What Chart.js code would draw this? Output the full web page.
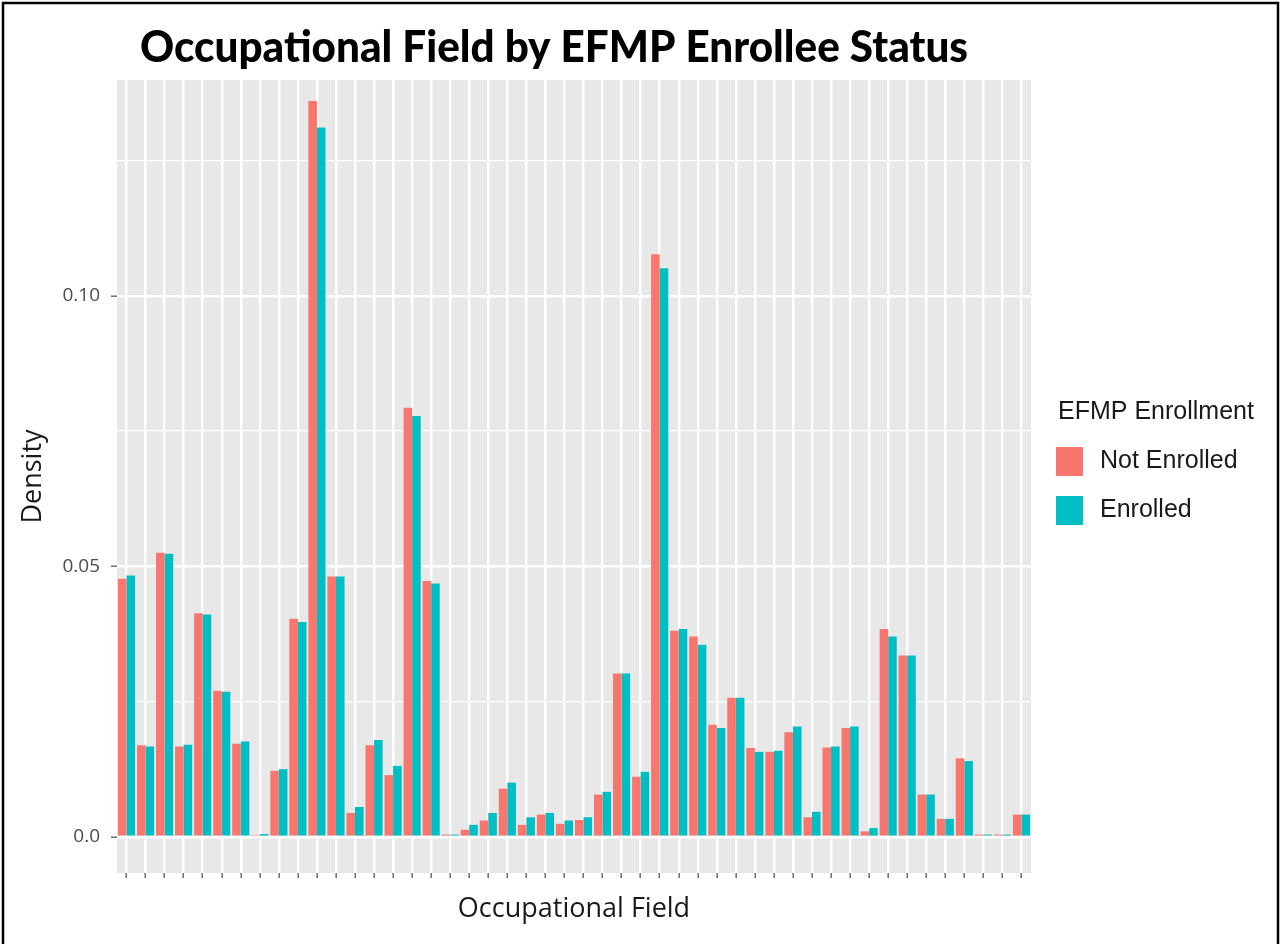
<!DOCTYPE html>
<html>
<head>
<meta charset="utf-8">
<title>Occupational Field by EFMP Enrollee Status</title>
<script src="https://cdn.jsdelivr.net/npm/chart.js@4.4.0/dist/chart.umd.min.js"></script>
<style>
    html, body { margin: 0; padding: 0; background: #fff; }
    #chart { display: block; }
</style>
</head>
<body>
<canvas id="chart" width="1281" height="944"></canvas>
<script>
const chartTitle = 'Occupational Field by EFMP Enrollee Status';
const xTitle = 'Occupational Field';
const yTitle = 'Density';
const legendTitle = 'EFMP Enrollment';

// occupational fields (not labelled on the original axis)
const fields = [
    'F01', 'F02', 'F03', 'F04', 'F05', 'F06', 'F07', 'F08', 'F09', 'F10', 'F11', 'F12',
    'F13', 'F14', 'F15', 'F16', 'F17', 'F18', 'F19', 'F20', 'F21', 'F22', 'F23', 'F24',
    'F25', 'F26', 'F27', 'F28', 'F29', 'F30', 'F31', 'F32', 'F33', 'F34', 'F35', 'F36',
    'F37', 'F38', 'F39', 'F40', 'F41', 'F42', 'F43', 'F44', 'F45', 'F46', 'F47', 'F48'
];

const notEnrolled = [
    0.0477, 0.0169, 0.0525, 0.0167, 0.0413, 0.0270, 0.0172, 0.0003, 0.0122, 0.0403, 0.1360, 0.0481,
    0.0044, 0.0169, 0.0114, 0.0793, 0.0473, 0.0004, 0.0013, 0.0030, 0.0089, 0.0022, 0.0041, 0.0024,
    0.0031, 0.0078, 0.0302, 0.0111, 0.1077, 0.0381, 0.0370, 0.0207, 0.0257, 0.0164, 0.0157, 0.0193,
    0.0036, 0.0165, 0.0201, 0.0010, 0.0384, 0.0335, 0.0078, 0.0033, 0.0145, 0.0004, 0.0004, 0.0041
];

const enrolled = [
    0.0483, 0.0167, 0.0523, 0.0170, 0.0411, 0.0268, 0.0176, 0.0005, 0.0125, 0.0397, 0.1311, 0.0481,
    0.0055, 0.0179, 0.0131, 0.0778, 0.0468, 0.0004, 0.0022, 0.0044, 0.0100, 0.0036, 0.0044, 0.0030,
    0.0036, 0.0083, 0.0302, 0.0120, 0.1051, 0.0384, 0.0355, 0.0201, 0.0257, 0.0157, 0.0159, 0.0204,
    0.0046, 0.0167, 0.0204, 0.0016, 0.0370, 0.0335, 0.0078, 0.0033, 0.0140, 0.0004, 0.0004, 0.0041
];

// major ticks are labelled, minor ones only get a thin grid line
const yTickValues = [0, 0.025, 0.05, 0.075, 0.10, 0.125];
const yTickLabels = ['0.0', '', '0.05', '', '0.10', ''];
const yMin = -0.0067;
const yMax = 0.1399;

// grey ggplot style panel behind the grid
const panelBackground = {
    id: 'panelBackground',
    beforeDraw(chart) {
        const ctx = chart.ctx;
        const a = chart.chartArea;
        ctx.save();
        ctx.fillStyle = '#E8E8E8';
        ctx.fillRect(a.left, a.top, a.right - a.left, a.bottom - a.top);
        ctx.restore();
    }
};

// title, legend and outer frame
const decorations = {
    id: 'decorations',
    afterDraw(chart) {
        const ctx = chart.ctx;

        ctx.save();
        ctx.strokeStyle = '#000';
        ctx.lineWidth = 2.5;
        ctx.strokeRect(3, 3, 1275, 970);
        ctx.restore();

        ctx.save();
        ctx.font = '900 43px Lato, "Open Sans", sans-serif';
        ctx.fillStyle = '#000';
        ctx.textAlign = 'center';
        ctx.textBaseline = 'alphabetic';
        const w = ctx.measureText(chartTitle).width;
        ctx.translate(554, 62);
        ctx.scale(Math.min(1, 828 / w), 1);
        ctx.fillText(chartTitle, 0, 0);
        ctx.restore();

        ctx.save();
        ctx.fillStyle = '#1A1A1A';
        ctx.textAlign = 'left';
        ctx.textBaseline = 'alphabetic';
        ctx.font = '25px "Liberation Sans", Arial, sans-serif';
        ctx.fillText(legendTitle, 1058, 419);
        chart.data.datasets.forEach(function (ds, i) {
            const top = 447 + i * 49;
            ctx.fillStyle = ds.backgroundColor;
            ctx.fillRect(1056, top, 27, 29);
            ctx.fillStyle = '#1A1A1A';
            ctx.fillText(ds.label, 1100, top + 21);
        });
        ctx.restore();
    }
};

const ctxChart = document.getElementById('chart').getContext('2d');

var chart = new Chart(ctxChart, {
    type: 'bar',
    data: {
        labels: fields,
        datasets: [{
            label: 'Not Enrolled',
            data: notEnrolled,
            backgroundColor: '#F8766D',
            borderWidth: 0,
            categoryPercentage: 0.9,
            barPercentage: 1.0
        }, {
            label: 'Enrolled',
            data: enrolled,
            backgroundColor: '#00BFC4',
            borderWidth: 0,
            categoryPercentage: 0.9,
            barPercentage: 1.0
        }]
    },
    options: {
        responsive: false,
        animation: false,
        layout: {
            padding: { top: 80, right: 250, bottom: 0, left: 0 }
        },
        plugins: {
            legend: { display: false },
            title: { display: false },
            tooltip: { enabled: false }
        },
        scales: {
            x: {
                offset: true,
                grid: {
                    offset: false,
                    color: '#FFFFFF',
                    lineWidth: 2.4,
                    drawTicks: true,
                    tickLength: 5,
                    tickColor: '#6E6E6E',
                    tickWidth: 1.5
                },
                border: { display: false },
                ticks: { display: false },
                title: {
                    display: true,
                    text: xTitle,
                    color: '#1A1A1A',
                    font: { family: '"Open Sans", sans-serif', size: 27 },
                    padding: { top: 0, bottom: 18 }
                },
                afterFit: function (scale) {
                    scale.height = 71;
                }
            },
            y: {
                min: yMin,
                max: yMax,
                bounds: 'data',
                afterBuildTicks: function (scale) {
                    scale.ticks = yTickValues.map(function (v) { return { value: v }; });
                },
                ticks: {
                    autoSkip: false,
                    padding: 11,
                    color: '#4D4D4D',
                    font: { family: '"Open Sans", sans-serif', size: 19 },
                    callback: function (value, index) {
                        return yTickLabels[index];
                    }
                },
                grid: {
                    color: '#FFFFFF',
                    lineWidth: function (c) { return c.index % 2 === 0 ? 2.4 : 1.2; },
                    tickLength: 6,
                    tickWidth: 1.5,
                    tickColor: function (c) { return c.index % 2 === 0 ? '#6E6E6E' : 'rgba(0,0,0,0)'; }
                },
                border: { display: false },
                title: {
                    display: true,
                    text: yTitle,
                    color: '#1A1A1A',
                    font: { family: '"Open Sans", sans-serif', size: 27 },
                    padding: { top: 17, bottom: 0 }
                },
                afterFit: function (scale) {
                    scale.width = 117;
                }
            }
        }
    },
    plugins: [panelBackground, decorations]
});
</script>
</body>
</html>
